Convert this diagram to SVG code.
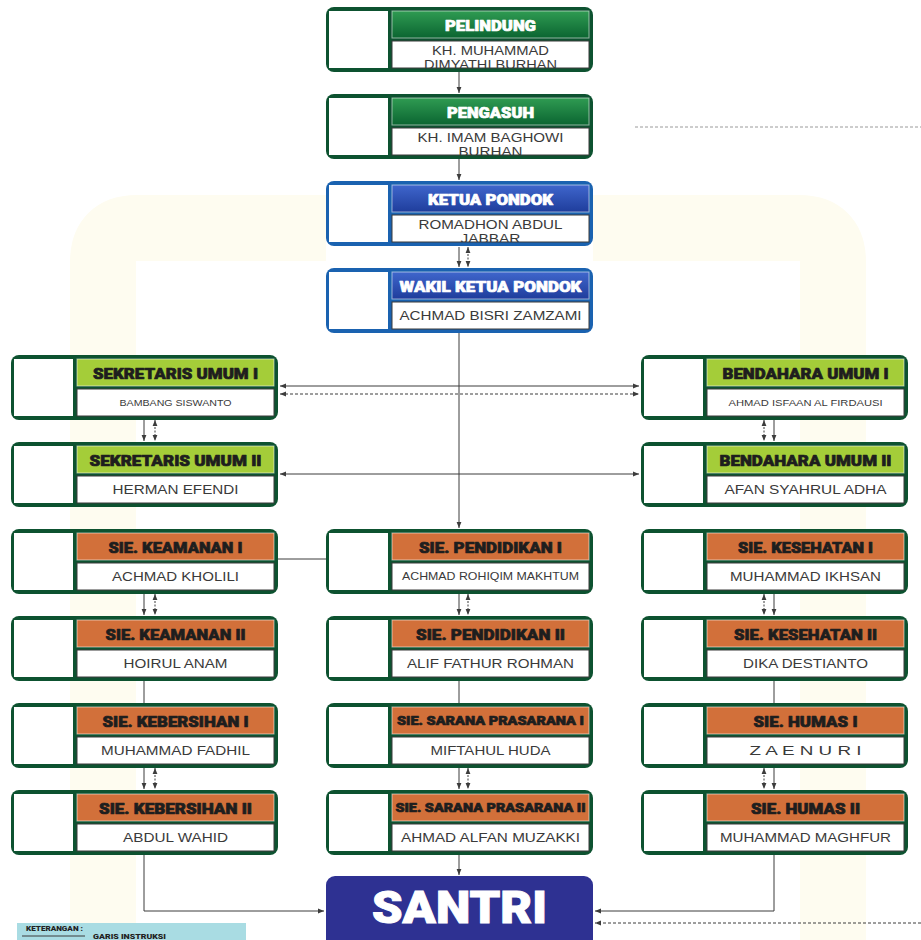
<svg xmlns="http://www.w3.org/2000/svg" width="921" height="940" viewBox="0 0 921 940">
<style>
.frame{fill:#0d5230}
.frame-b{fill:#1a62b0}
.side{fill:#ffffff}
.hd{stroke:#ffffff;stroke-opacity:.55;stroke-width:1}
.hd-dg{fill:url(#gDG)}
.hd-bl{fill:url(#gBL)}
.hd-lg{fill:#a4cd39}
.hd-or{fill:#d2703a}
.nm{fill:#ffffff;stroke:#3a3a3a;stroke-width:1}
.ht{font-family:Roboto,"Liberation Sans",sans-serif;font-weight:900;font-size:15.5px;text-anchor:middle;stroke-width:0.7px;stroke-linejoin:round}
.ht-w{fill:#ffffff;stroke:#ffffff}
.ht-d{fill:#1e1e1e;stroke:#1e1e1e}
.nt{font-family:"Liberation Sans",Arial,sans-serif;font-size:13px;fill:#3a3a3a;text-anchor:middle}
.nt-s{font-size:9.5px}
.nt-m{font-size:10.5px}
.ln{fill:none;stroke:#3c3c3c;stroke-width:1}
.dt{stroke-dasharray:2 1.5}
.ds{stroke-dasharray:3 2}
.bgy{fill:none;stroke:#fefcf0;stroke-width:66}
</style>
<defs>
<linearGradient id="gDG" x1="0" y1="0" x2="0" y2="1">
<stop offset="0" stop-color="#2f9b52"/>
<stop offset="1" stop-color="#0b6531"/>
</linearGradient>
<linearGradient id="gBL" x1="0" y1="0" x2="0" y2="1">
<stop offset="0" stop-color="#3f66cc"/>
<stop offset="1" stop-color="#1f3d9c"/>
</linearGradient>
<marker id="ah" viewBox="0 0 6 6" markerWidth="6" markerHeight="6" refX="6" refY="3" orient="auto-start-reverse" markerUnits="userSpaceOnUse">
<path d="M0,0.6 L6,3 L0,5.4 z" fill="#3c3c3c"/>
</marker>
<clipPath id="nmclip"><rect x="66" y="34" width="197" height="27"/></clipPath>
</defs>

<rect width="921" height="940" fill="#ffffff"/>
<g id="background">
<path class="bgy" d="M103,940 V262 Q103,228 137,228 H326"/>
<path class="bgy" d="M593,228 H799 Q833,228 833,262 V940"/>
</g>

<g id="connectors">
<path class="ln" d="M459,72 V93" marker-end="url(#ah)"/>
<path class="ln" d="M459,159 V180" marker-end="url(#ah)"/>
<path class="ln" d="M459,247 V267" marker-end="url(#ah)"/>
<path class="ln dt" d="M468,247 V267" marker-start="url(#ah)" marker-end="url(#ah)"/>
<path class="ln" d="M459,333 V528" marker-end="url(#ah)"/>
<path class="ln" d="M280,386 H639" marker-start="url(#ah)" marker-end="url(#ah)"/>
<path class="ln ds" d="M280,394 H639" marker-start="url(#ah)" marker-end="url(#ah)"/>
<path class="ln" d="M280,474 H639" marker-start="url(#ah)" marker-end="url(#ah)"/>
<path class="ln" d="M144,420 V441" marker-end="url(#ah)"/>
<path class="ln dt" d="M155,420 V441" marker-start="url(#ah)" marker-end="url(#ah)"/>
<path class="ln dt" d="M764,420 V441" marker-start="url(#ah)" marker-end="url(#ah)"/>
<path class="ln" d="M774,420 V441" marker-end="url(#ah)"/>
<path class="ln" d="M278,559 H326"/>
<path class="ln" d="M144,594 V615" marker-end="url(#ah)"/>
<path class="ln dt" d="M155,594 V615" marker-start="url(#ah)" marker-end="url(#ah)"/>
<path class="ln" d="M459,594 V615" marker-end="url(#ah)"/>
<path class="ln dt" d="M468,594 V615" marker-start="url(#ah)" marker-end="url(#ah)"/>
<path class="ln dt" d="M764,594 V615" marker-start="url(#ah)" marker-end="url(#ah)"/>
<path class="ln" d="M774,594 V615" marker-end="url(#ah)"/>
<path class="ln" d="M144,681 V703"/>
<path class="ln" d="M459,681 V703"/>
<path class="ln" d="M774,681 V703"/>
<path class="ln" d="M144,768 V789" marker-end="url(#ah)"/>
<path class="ln dt" d="M155,768 V789" marker-start="url(#ah)" marker-end="url(#ah)"/>
<path class="ln" d="M459,768 V789" marker-end="url(#ah)"/>
<path class="ln dt" d="M468,768 V789" marker-start="url(#ah)" marker-end="url(#ah)"/>
<path class="ln dt" d="M764,768 V789" marker-start="url(#ah)" marker-end="url(#ah)"/>
<path class="ln" d="M774,768 V789" marker-end="url(#ah)"/>
<path class="ln" d="M144,855 V911 H324" marker-end="url(#ah)"/>
<path class="ln" d="M774,855 V911 H595" marker-end="url(#ah)"/>
<path class="ln" d="M459,855 V875" marker-end="url(#ah)"/>
<path class="ln ds" d="M921,923 H595" marker-end="url(#ah)"/>
<path class="ln ds" d="M635,127 H921" style="stroke:#9a9a9a"/>
</g>

<g id="n-pelindung" transform="translate(326,7)">
<rect class="frame" width="267" height="65" rx="8"/>
<rect class="side" x="3" y="4" width="59" height="57"/>
<rect class="hd hd-dg" x="66" y="4" width="197" height="27"/>
<rect class="nm" x="66" y="34" width="197" height="27"/>
<text class="ht ht-w" x="164.5" y="24" textLength="91" lengthAdjust="spacingAndGlyphs">PELINDUNG</text>
<g clip-path="url(#nmclip)">
<text class="nt" x="164.5" y="48" textLength="117" lengthAdjust="spacingAndGlyphs">KH. MUHAMMAD</text>
<text class="nt" x="164.5" y="61.5" textLength="133" lengthAdjust="spacingAndGlyphs">DIMYATHI BURHAN</text>
</g>
</g>

<g id="n-pengasuh" transform="translate(326,94)">
<rect class="frame" width="267" height="65" rx="8"/>
<rect class="side" x="3" y="4" width="59" height="57"/>
<rect class="hd hd-dg" x="66" y="4" width="197" height="27"/>
<rect class="nm" x="66" y="34" width="197" height="27"/>
<text class="ht ht-w" x="164.5" y="24" textLength="87" lengthAdjust="spacingAndGlyphs">PENGASUH</text>
<g clip-path="url(#nmclip)">
<text class="nt" x="164.5" y="48" textLength="146" lengthAdjust="spacingAndGlyphs">KH. IMAM BAGHOWI</text>
<text class="nt" x="164.5" y="61.5" textLength="64" lengthAdjust="spacingAndGlyphs">BURHAN</text>
</g>
</g>

<g id="n-ketua" transform="translate(326,181)">
<rect class="frame-b" width="267" height="65" rx="8"/>
<rect class="side" x="3" y="4" width="59" height="57"/>
<rect class="hd hd-bl" x="66" y="4" width="197" height="27"/>
<rect class="nm" x="66" y="34" width="197" height="27"/>
<text class="ht ht-w" x="164.5" y="24" textLength="125" lengthAdjust="spacingAndGlyphs">KETUA PONDOK</text>
<g clip-path="url(#nmclip)">
<text class="nt" x="164.5" y="48" textLength="144" lengthAdjust="spacingAndGlyphs">ROMADHON ABDUL</text>
<text class="nt" x="164.5" y="61.5" textLength="60" lengthAdjust="spacingAndGlyphs">JABBAR</text>
</g>
</g>

<g id="n-wakil" transform="translate(326,268)">
<rect class="frame-b" width="267" height="65" rx="8"/>
<rect class="side" x="3" y="4" width="59" height="57"/>
<rect class="hd hd-bl" x="66" y="4" width="197" height="27"/>
<rect class="nm" x="66" y="34" width="197" height="27"/>
<text class="ht ht-w" x="164.5" y="24" textLength="182" lengthAdjust="spacingAndGlyphs">WAKIL KETUA PONDOK</text>
<text class="nt" x="164.5" y="52" textLength="182" lengthAdjust="spacingAndGlyphs">ACHMAD BISRI ZAMZAMI</text>
</g>

<g id="n-sekretaris1" transform="translate(11,355)">
<rect class="frame" width="267" height="65" rx="8"/>
<rect class="side" x="3" y="4" width="59" height="57"/>
<rect class="hd hd-lg" x="66" y="4" width="197" height="27"/>
<rect class="nm" x="66" y="34" width="197" height="27"/>
<text class="ht ht-d" x="164.5" y="24" textLength="165" lengthAdjust="spacingAndGlyphs">SEKRETARIS UMUM I</text>
<text class="nt nt-s" x="164.5" y="51" textLength="112" lengthAdjust="spacingAndGlyphs">BAMBANG SISWANTO</text>
</g>

<g id="n-sekretaris2" transform="translate(11,442)">
<rect class="frame" width="267" height="65" rx="8"/>
<rect class="side" x="3" y="4" width="59" height="57"/>
<rect class="hd hd-lg" x="66" y="4" width="197" height="27"/>
<rect class="nm" x="66" y="34" width="197" height="27"/>
<text class="ht ht-d" x="164.5" y="24" textLength="172" lengthAdjust="spacingAndGlyphs">SEKRETARIS UMUM II</text>
<text class="nt" x="164.5" y="52" textLength="126" lengthAdjust="spacingAndGlyphs">HERMAN EFENDI</text>
</g>

<g id="n-bendahara1" transform="translate(641,355)">
<rect class="frame" width="267" height="65" rx="8"/>
<rect class="side" x="3" y="4" width="59" height="57"/>
<rect class="hd hd-lg" x="66" y="4" width="197" height="27"/>
<rect class="nm" x="66" y="34" width="197" height="27"/>
<text class="ht ht-d" x="164.5" y="24" textLength="166" lengthAdjust="spacingAndGlyphs">BENDAHARA UMUM I</text>
<text class="nt nt-s" x="164.5" y="51" textLength="154" lengthAdjust="spacingAndGlyphs">AHMAD ISFAAN AL FIRDAUSI</text>
</g>

<g id="n-bendahara2" transform="translate(641,442)">
<rect class="frame" width="267" height="65" rx="8"/>
<rect class="side" x="3" y="4" width="59" height="57"/>
<rect class="hd hd-lg" x="66" y="4" width="197" height="27"/>
<rect class="nm" x="66" y="34" width="197" height="27"/>
<text class="ht ht-d" x="164.5" y="24" textLength="172" lengthAdjust="spacingAndGlyphs">BENDAHARA UMUM II</text>
<text class="nt" x="164.5" y="52" textLength="162" lengthAdjust="spacingAndGlyphs">AFAN SYAHRUL ADHA</text>
</g>

<g id="n-keamanan1" transform="translate(11,529)">
<rect class="frame" width="267" height="65" rx="8"/>
<rect class="side" x="3" y="4" width="59" height="57"/>
<rect class="hd hd-or" x="66" y="4" width="197" height="27"/>
<rect class="nm" x="66" y="34" width="197" height="27"/>
<text class="ht ht-d" x="164.5" y="24" textLength="134" lengthAdjust="spacingAndGlyphs">SIE. KEAMANAN I</text>
<text class="nt" x="164.5" y="52" textLength="127" lengthAdjust="spacingAndGlyphs">ACHMAD KHOLILI</text>
</g>

<g id="n-keamanan2" transform="translate(11,616)">
<rect class="frame" width="267" height="65" rx="8"/>
<rect class="side" x="3" y="4" width="59" height="57"/>
<rect class="hd hd-or" x="66" y="4" width="197" height="27"/>
<rect class="nm" x="66" y="34" width="197" height="27"/>
<text class="ht ht-d" x="164.5" y="24" textLength="140" lengthAdjust="spacingAndGlyphs">SIE. KEAMANAN II</text>
<text class="nt" x="164.5" y="52" textLength="104" lengthAdjust="spacingAndGlyphs">HOIRUL ANAM</text>
</g>

<g id="n-kebersihan1" transform="translate(11,703)">
<rect class="frame" width="267" height="65" rx="8"/>
<rect class="side" x="3" y="4" width="59" height="57"/>
<rect class="hd hd-or" x="66" y="4" width="197" height="27"/>
<rect class="nm" x="66" y="34" width="197" height="27"/>
<text class="ht ht-d" x="164.5" y="24" textLength="146" lengthAdjust="spacingAndGlyphs">SIE. KEBERSIHAN I</text>
<text class="nt" x="164.5" y="52" textLength="149" lengthAdjust="spacingAndGlyphs">MUHAMMAD FADHIL</text>
</g>

<g id="n-kebersihan2" transform="translate(11,790)">
<rect class="frame" width="267" height="65" rx="8"/>
<rect class="side" x="3" y="4" width="59" height="57"/>
<rect class="hd hd-or" x="66" y="4" width="197" height="27"/>
<rect class="nm" x="66" y="34" width="197" height="27"/>
<text class="ht ht-d" x="164.5" y="24" textLength="153" lengthAdjust="spacingAndGlyphs">SIE. KEBERSIHAN II</text>
<text class="nt" x="164.5" y="52" textLength="105" lengthAdjust="spacingAndGlyphs">ABDUL WAHID</text>
</g>

<g id="n-pendidikan1" transform="translate(326,529)">
<rect class="frame" width="267" height="65" rx="8"/>
<rect class="side" x="3" y="4" width="59" height="57"/>
<rect class="hd hd-or" x="66" y="4" width="197" height="27"/>
<rect class="nm" x="66" y="34" width="197" height="27"/>
<text class="ht ht-d" x="164.5" y="24" textLength="143" lengthAdjust="spacingAndGlyphs">SIE. PENDIDIKAN I</text>
<text class="nt nt-m" x="164.5" y="51" textLength="177" lengthAdjust="spacingAndGlyphs">ACHMAD ROHIQIM MAKHTUM</text>
</g>

<g id="n-pendidikan2" transform="translate(326,616)">
<rect class="frame" width="267" height="65" rx="8"/>
<rect class="side" x="3" y="4" width="59" height="57"/>
<rect class="hd hd-or" x="66" y="4" width="197" height="27"/>
<rect class="nm" x="66" y="34" width="197" height="27"/>
<text class="ht ht-d" x="164.5" y="24" textLength="149" lengthAdjust="spacingAndGlyphs">SIE. PENDIDIKAN II</text>
<text class="nt" x="164.5" y="52" textLength="167" lengthAdjust="spacingAndGlyphs">ALIF FATHUR ROHMAN</text>
</g>

<g id="n-sarana1" transform="translate(326,703)">
<rect class="frame" width="267" height="65" rx="8"/>
<rect class="side" x="3" y="4" width="59" height="57"/>
<rect class="hd hd-or" x="66" y="4" width="197" height="27"/>
<rect class="nm" x="66" y="34" width="197" height="27"/>
<text class="ht ht-d" x="164.5" y="22" style="font-size:13.5px" textLength="187" lengthAdjust="spacingAndGlyphs">SIE. SARANA PRASARANA I</text>
<text class="nt" x="164.5" y="52" textLength="120" lengthAdjust="spacingAndGlyphs">MIFTAHUL HUDA</text>
</g>

<g id="n-sarana2" transform="translate(326,790)">
<rect class="frame" width="267" height="65" rx="8"/>
<rect class="side" x="3" y="4" width="59" height="57"/>
<rect class="hd hd-or" x="66" y="4" width="197" height="27"/>
<rect class="nm" x="66" y="34" width="197" height="27"/>
<text class="ht ht-d" x="164.5" y="22" style="font-size:13.5px" textLength="190" lengthAdjust="spacingAndGlyphs">SIE. SARANA PRASARANA II</text>
<text class="nt" x="164.5" y="52" textLength="179" lengthAdjust="spacingAndGlyphs">AHMAD ALFAN MUZAKKI</text>
</g>

<g id="n-kesehatan1" transform="translate(641,529)">
<rect class="frame" width="267" height="65" rx="8"/>
<rect class="side" x="3" y="4" width="59" height="57"/>
<rect class="hd hd-or" x="66" y="4" width="197" height="27"/>
<rect class="nm" x="66" y="34" width="197" height="27"/>
<text class="ht ht-d" x="164.5" y="24" textLength="135" lengthAdjust="spacingAndGlyphs">SIE. KESEHATAN I</text>
<text class="nt" x="164.5" y="52" textLength="151" lengthAdjust="spacingAndGlyphs">MUHAMMAD IKHSAN</text>
</g>

<g id="n-kesehatan2" transform="translate(641,616)">
<rect class="frame" width="267" height="65" rx="8"/>
<rect class="side" x="3" y="4" width="59" height="57"/>
<rect class="hd hd-or" x="66" y="4" width="197" height="27"/>
<rect class="nm" x="66" y="34" width="197" height="27"/>
<text class="ht ht-d" x="164.5" y="24" textLength="143" lengthAdjust="spacingAndGlyphs">SIE. KESEHATAN II</text>
<text class="nt" x="164.5" y="52" textLength="125" lengthAdjust="spacingAndGlyphs">DIKA DESTIANTO</text>
</g>

<g id="n-humas1" transform="translate(641,703)">
<rect class="frame" width="267" height="65" rx="8"/>
<rect class="side" x="3" y="4" width="59" height="57"/>
<rect class="hd hd-or" x="66" y="4" width="197" height="27"/>
<rect class="nm" x="66" y="34" width="197" height="27"/>
<text class="ht ht-d" x="164.5" y="24" textLength="104" lengthAdjust="spacingAndGlyphs">SIE. HUMAS I</text>
<text class="nt" x="164.5" y="52" textLength="112" lengthAdjust="spacingAndGlyphs">Z A E N U R I</text>
</g>

<g id="n-humas2" transform="translate(641,790)">
<rect class="frame" width="267" height="65" rx="8"/>
<rect class="side" x="3" y="4" width="59" height="57"/>
<rect class="hd hd-or" x="66" y="4" width="197" height="27"/>
<rect class="nm" x="66" y="34" width="197" height="27"/>
<text class="ht ht-d" x="164.5" y="24" textLength="109" lengthAdjust="spacingAndGlyphs">SIE. HUMAS II</text>
<text class="nt" x="164.5" y="52" textLength="171" lengthAdjust="spacingAndGlyphs">MUHAMMAD MAGHFUR</text>
</g>

<g id="n-santri">
<rect x="326" y="876" width="267" height="80" rx="9" fill="#2e3192"/>
<text x="459.5" y="923" font-family="Roboto,'Liberation Sans',sans-serif" font-weight="900" font-size="44" fill="#ffffff" stroke="#ffffff" stroke-width="1" text-anchor="middle" textLength="175" lengthAdjust="spacingAndGlyphs">SANTRI</text>
</g>

<g id="legend">
<rect x="17" y="923" width="229" height="30" fill="#a9dce3"/>
<text x="26" y="931" font-family="Roboto,'Liberation Sans',sans-serif" font-weight="900" font-size="7.5" fill="#222222" textLength="57" lengthAdjust="spacingAndGlyphs">KETERANGAN :</text>
<path d="M22,936 H85" stroke="#3c3c3c" stroke-width="1"/>
<text x="93" y="939" font-family="Roboto,'Liberation Sans',sans-serif" font-weight="900" font-size="7" fill="#222222" textLength="73" lengthAdjust="spacingAndGlyphs">GARIS INSTRUKSI</text>
</g>
</svg>
